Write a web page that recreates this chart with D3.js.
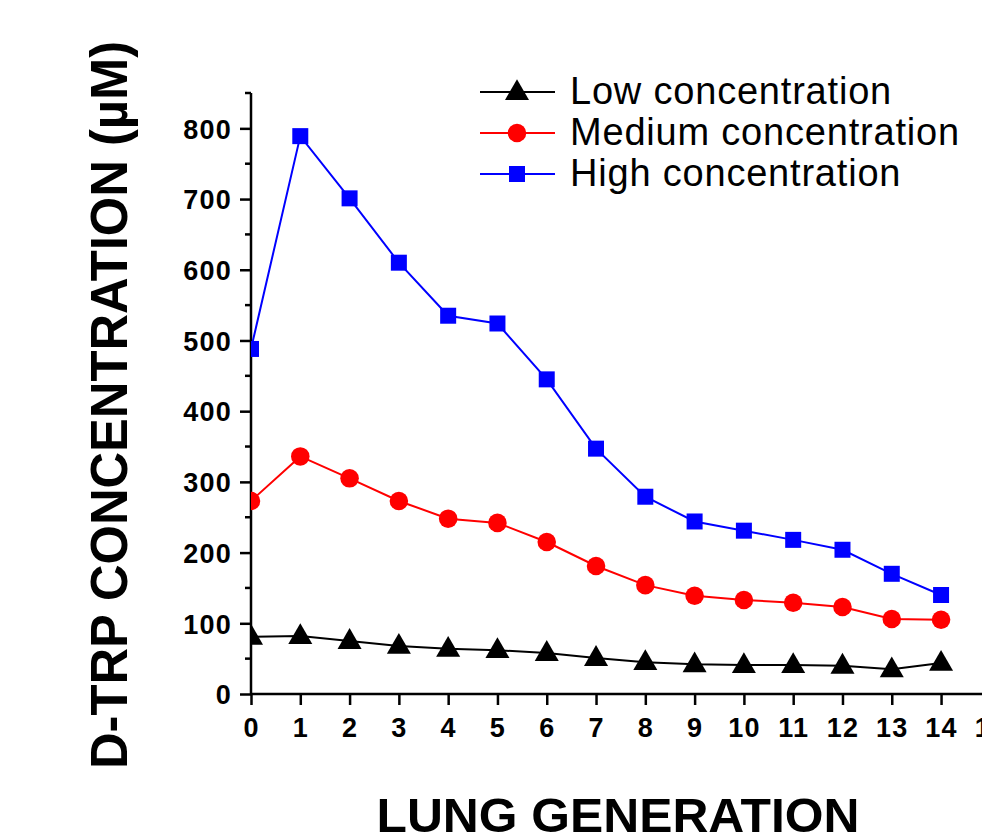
<!DOCTYPE html>
<html>
<head>
<meta charset="utf-8">
<script src="https://cdn.jsdelivr.net/npm/d3@7"></script>
<style>
  body { margin: 0; background: #fff; }
  svg { display: block; font-family: "Liberation Sans", Arial, Helvetica, sans-serif; }
</style>
</head>
<body>
<div id="chart"></div>
<script>
const generations = [0, 1, 2, 3, 4, 5, 6, 7, 8, 9, 10, 11, 12, 13, 14];
const lowValues = [81, 82, 75, 68, 64, 62, 58, 51, 45, 42, 41, 41, 40, 35, 44];
const mediumValues = [273, 336, 305, 273, 248, 242, 215, 181, 154, 139, 133, 129, 123, 106, 105];
const highValues = [488, 789, 701, 610, 535, 524, 445, 347, 279, 244, 231, 218, 204, 170, 140];
const seriesNames = ["Low concentration", "Medium concentration", "High concentration"];
const seriesColors = ["#000000", "#ff0000", "#0000ff"];
const seriesSymbols = [d3.symbolTriangle, d3.symbolCircle, d3.symbolSquare];
const xTicks = d3.range(0, 16);
const yTicks = [0, 100, 200, 300, 400, 500, 600, 700, 800];
const yMinorTicks = [50, 150, 250, 350, 450, 550, 650, 750, 850];

const width = 982, height = 834;
const x0 = 251, yBottom = 694, yTop = 93;

const series = [lowValues, mediumValues, highValues].map((vals, i) => ({
  name: seriesNames[i], color: seriesColors[i], symbol: seriesSymbols[i],
  values: vals.map((v, j) => ({ x: generations[j], y: v }))
}));

const x = d3.scaleLinear().domain([0, 15]).range([x0, x0 + 15 * 49.29]);
const y = d3.scaleLinear().domain([0, 850]).range([yBottom, yTop]);

const svg = d3.select("#chart").append("svg")
  .attr("width", width).attr("height", height);

svg.append("clipPath").attr("id", "plot")
  .append("rect").attr("x", x0).attr("y", 0).attr("width", width).attr("height", height);

// axes
const xAxis = svg.append("g")
  .attr("transform", `translate(0,${yBottom})`)
  .call(d3.axisBottom(x).tickValues(xTicks).tickFormat(d3.format("d")).tickSize(11).tickSizeOuter(0));
xAxis.select(".domain").attr("d", `M${x0},0H${width + 10}`);

const yAxis = svg.append("g")
  .attr("transform", `translate(${x0},0)`)
  .call(d3.axisLeft(y).tickValues(yTicks).tickSize(11).tickSizeOuter(0));
yAxis.select(".domain").attr("d", `M0,${yTop}V${yBottom}`);

svg.append("g")
  .attr("transform", `translate(${x0},0)`)
  .selectAll("line").data(yMinorTicks).join("line")
  .attr("x1", -6).attr("x2", 0)
  .attr("y1", d => y(d)).attr("y2", d => y(d))
  .attr("stroke", "#000").attr("stroke-width", 2.5);

[xAxis, yAxis].forEach(g => {
  g.select(".domain").attr("stroke", "#000").attr("stroke-width", 2.5);
  g.selectAll(".tick line").attr("stroke", "#000").attr("stroke-width", 2.5);
  g.selectAll(".tick text")
    .attr("fill", "#000")
    .style("font-size", "27px")
    .style("font-weight", "bold")
    .style("letter-spacing", "1.2px")
    .style("font-family", "'Liberation Sans', Arial, sans-serif");
});
xAxis.selectAll(".tick text").attr("dy", null).attr("y", 43);
yAxis.selectAll(".tick text").attr("x", -19).attr("dy", "0.36em");

// series
const line = d3.line().x(d => x(d.x)).y(d => y(d.y));
const plot = svg.append("g").attr("clip-path", "url(#plot)");

const sizes = [250, 270, 256];
series.forEach((s, i) => {
  plot.append("path")
    .datum(s.values)
    .attr("d", line)
    .attr("fill", "none")
    .attr("stroke", s.color)
    .attr("stroke-width", 2);
  plot.selectAll(null).data(s.values).join("path")
    .attr("transform", d => `translate(${x(d.x)},${y(d.y) + (i === 0 ? 1 : 0)})`)
    .attr("d", d3.symbol(s.symbol, sizes[i]))
    .attr("fill", s.color);
});

// legend
const legend = svg.append("g").attr("transform", "translate(480,92)");
series.forEach((s, i) => {
  const row = legend.append("g").attr("transform", `translate(0,${i * 41})`);
  row.append("line").attr("x1", 0).attr("x2", 75).attr("y1", 0).attr("y2", 0)
    .attr("stroke", s.color).attr("stroke-width", 2);
  row.append("path").attr("transform", `translate(37,${i === 0 ? 1 : 0})`)
    .attr("d", d3.symbol(s.symbol, sizes[i]))
    .attr("fill", s.color);
  row.append("text").attr("x", 90).attr("y", 12)
    .style("font-size", "38px")
    .style("letter-spacing", "0.8px")
    .text(s.name);
});

// axis titles
svg.append("text")
  .attr("transform", `translate(127,405) rotate(-90)`)
  .attr("text-anchor", "middle")
  .attr("textLength", 728)
  .attr("lengthAdjust", "spacingAndGlyphs")
  .style("font-size", "52px")
  .style("font-weight", "bold")
  .text("D-TRP CONCENTRATION (\u00b5M)");

svg.append("text")
  .attr("x", 618).attr("y", 832)
  .attr("text-anchor", "middle")
  .attr("textLength", 483)
  .attr("lengthAdjust", "spacingAndGlyphs")
  .style("font-size", "48px")
  .style("font-weight", "bold")
  .text("LUNG GENERATION");
</script>
</body>
</html>
